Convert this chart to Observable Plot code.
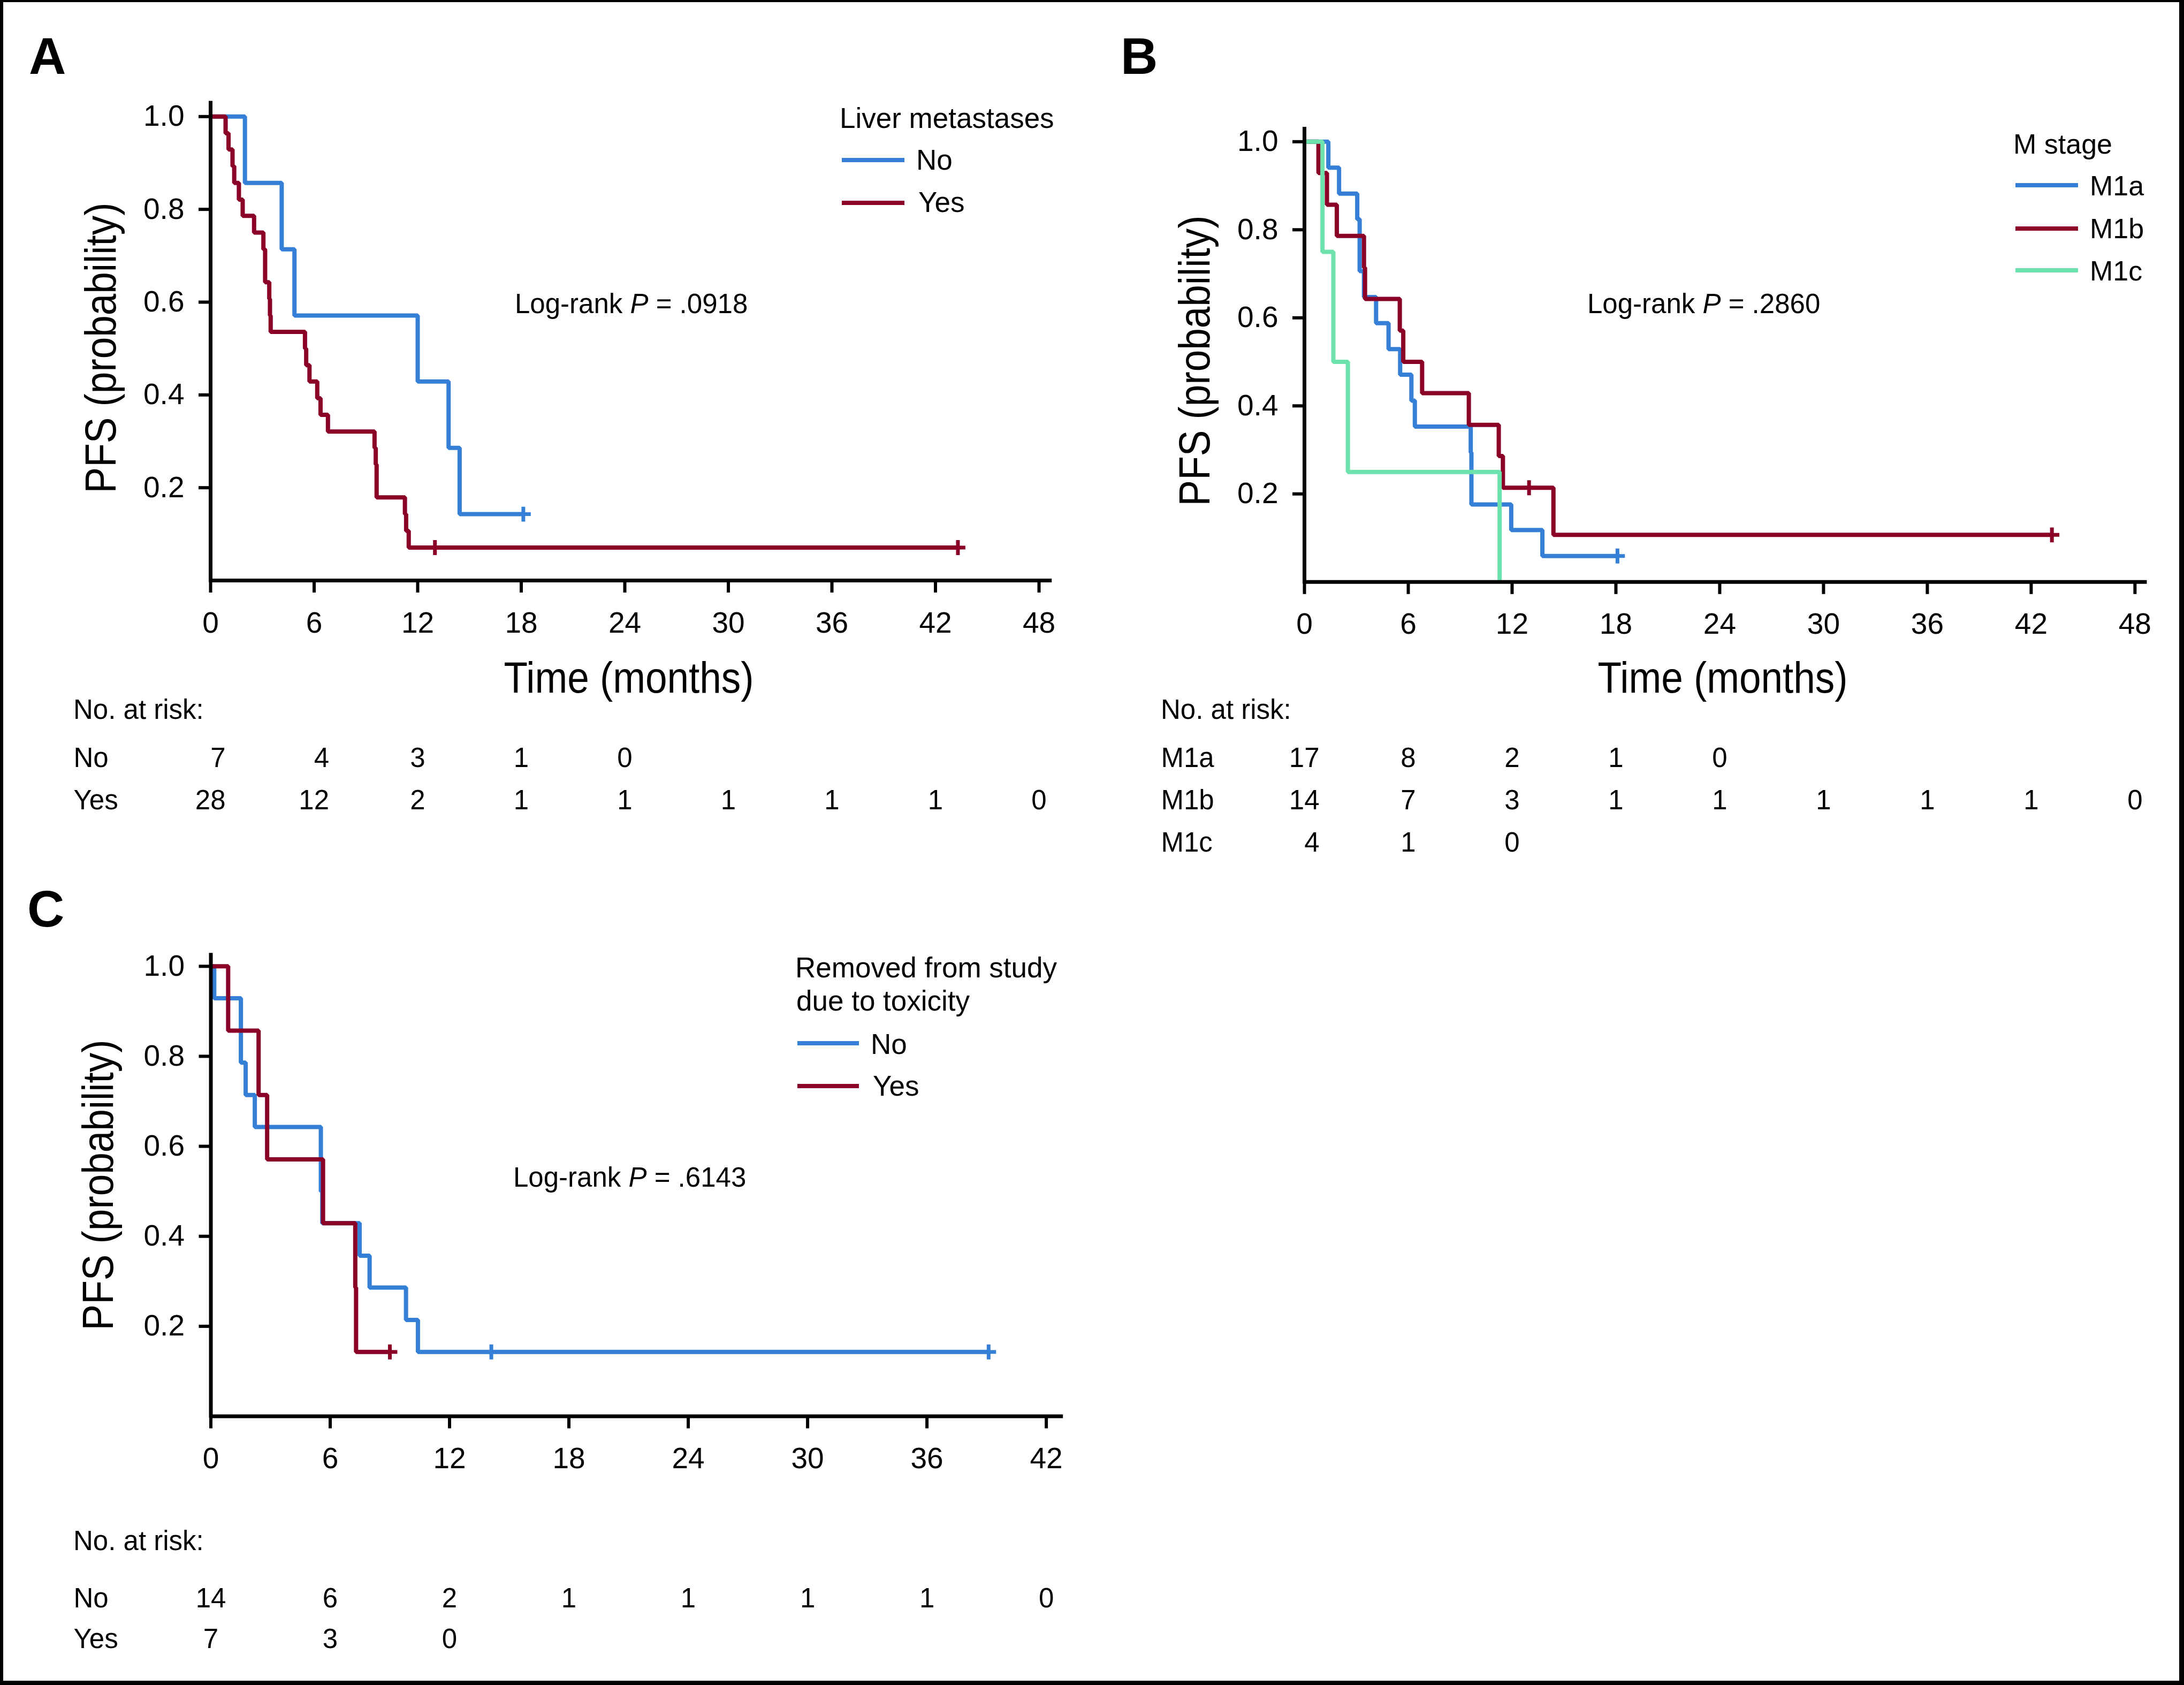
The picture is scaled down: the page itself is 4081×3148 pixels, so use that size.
<!DOCTYPE html>
<html><head><meta charset="utf-8">
<script src="https://cdn.jsdelivr.net/npm/d3@7"></script>
<script src="https://cdn.jsdelivr.net/npm/@observablehq/plot@0.6"></script>
<style>
html,body{margin:0;padding:0;background:#fff;}
#page{position:relative;width:4081px;height:3148px;overflow:hidden;background:#fff;font-family:"Liberation Sans",Arial,Helvetica,sans-serif;color:#000;}
.abs{position:absolute;white-space:nowrap;line-height:1;}
#frame{position:absolute;left:0;top:0;width:4081px;height:3148px;box-sizing:border-box;border-style:solid;border-color:#000;border-width:4px 9px 8px 6px;pointer-events:none;}
</style></head><body><div id="page"></div>
<script>
// ---------------- DATA ----------------
// Panel A: Liver metastases
const aGroups = ["No", "Yes"];
const aNoTime = [0, 1.99, 4.12, 4.86, 12.0, 13.79, 14.43, 18.12];
const aNoSurv = [1, 0.857, 0.714, 0.571, 0.429, 0.286, 0.143, 0.143];
const aYesTime = [0, 0.87, 1.04, 1.27, 1.37, 1.64, 1.86, 2.52, 3.06, 3.16, 3.40, 3.44, 3.48, 5.47, 5.54, 5.73, 6.18, 6.37, 6.80, 9.50, 9.57, 9.62, 11.26, 11.33, 11.48, 43.3];
const aYesSurv = [1, 0.964, 0.929, 0.893, 0.857, 0.821, 0.786, 0.750, 0.714, 0.643, 0.607, 0.571, 0.536, 0.500, 0.464, 0.429, 0.393, 0.357, 0.321, 0.286, 0.250, 0.179, 0.143, 0.107, 0.071, 0.071];
const aNoCensorTime = [18.12];
const aNoCensorSurv = [0.143];
const aYesCensorTime = [13.0, 43.3];
const aYesCensorSurv = [0.071, 0.071];
const aRiskTimes = [0, 6, 12, 18, 24, 30, 36, 42, 48];
const aRiskNo = [7, 4, 3, 1, 0];
const aRiskYes = [28, 12, 2, 1, 1, 1, 1, 1, 0];
const aTicks = [0, 6, 12, 18, 24, 30, 36, 42, 48];
const aPValue = ".0918";

// Panel B: M stage
const bGroups = ["M1a", "M1b", "M1c"];
const bM1aTime = [0, 1.38, 2.0, 3.05, 3.19, 3.44, 4.14, 4.86, 5.53, 6.18, 6.38, 9.61, 9.65, 11.95, 13.75, 18.09];
const bM1aSurv = [1, 0.941, 0.882, 0.824, 0.706, 0.647, 0.588, 0.529, 0.471, 0.412, 0.353, 0.294, 0.176, 0.118, 0.059, 0.059];
const bM1bTime = [0, 0.81, 1.30, 1.87, 3.44, 3.50, 5.51, 5.71, 6.80, 9.50, 11.23, 11.47, 14.39, 43.2];
const bM1bSurv = [1, 0.929, 0.857, 0.786, 0.714, 0.643, 0.571, 0.500, 0.429, 0.357, 0.286, 0.214, 0.107, 0.107];
const bM1cTime = [0, 1.04, 1.67, 2.51, 11.28];
const bM1cSurv = [1, 0.75, 0.5, 0.25, 0];
const bM1aCensorTime = [18.09];
const bM1aCensorSurv = [0.059];
const bM1bCensorTime = [12.98, 43.2];
const bM1bCensorSurv = [0.214, 0.107];
const bRiskTimes = [0, 6, 12, 18, 24, 30, 36, 42, 48];
const bRiskM1a = [17, 8, 2, 1, 0];
const bRiskM1b = [14, 7, 3, 1, 1, 1, 1, 1, 0];
const bRiskM1c = [4, 1, 0];
const bTicks = [0, 6, 12, 18, 24, 30, 36, 42, 48];
const bPValue = ".2860";

// Panel C: Removed from study due to toxicity
const cGroups = ["No", "Yes"];
const cNoTime = [0, 0.17, 1.51, 1.75, 2.21, 5.53, 5.60, 7.48, 7.98, 9.81, 10.41, 39.1];
const cNoSurv = [1, 0.929, 0.786, 0.714, 0.643, 0.500, 0.429, 0.357, 0.286, 0.214, 0.143, 0.143];
const cYesTime = [0, 0.87, 2.40, 2.83, 5.64, 7.26, 7.30, 9.0];
const cYesSurv = [1, 0.857, 0.714, 0.571, 0.429, 0.286, 0.143, 0.143];
const cNoCensorTime = [14.1, 39.1];
const cNoCensorSurv = [0.143, 0.143];
const cYesCensorTime = [9.0];
const cYesCensorSurv = [0.143];
const cRiskTimes = [0, 6, 12, 18, 24, 30, 36, 42];
const cRiskNo = [14, 6, 2, 1, 1, 1, 1, 0];
const cRiskYes = [7, 3, 0];
const cTicks = [0, 6, 12, 18, 24, 30, 36, 42];
const cPValue = ".6143";

const yTicks = [0.2, 0.4, 0.6, 0.8, 1.0];
const BLUE = "#3580D6", RED = "#8B0026", GREEN = "#6EE2AC";

// ---------------- HELPERS ----------------
const FONT = '"Liberation Sans", Arial, Helvetica, sans-serif';
const page = document.getElementById("page");

function mount(el, left, top) {
  el.style.position = "absolute";
  el.style.left = left + "px";
  el.style.top = top + "px";
  page.appendChild(el);
}

function toRows(g, times, survs) {
  return times.map((t, i) => ({g, t, s: survs[i]}));
}

function kmPlot(o) {
  const data = o.series.flatMap(s => toRows(s.g, s.time, s.surv));
  const cens = o.censors.flatMap(s => toRows(s.g, s.time, s.surv));
  return Plot.plot({
    width: o.width, height: o.height,
    marginLeft: o.mL, marginRight: o.mR, marginTop: o.mT, marginBottom: o.mB,
    style: {fontFamily: FONT, color: "#000", background: "transparent", overflow: "visible"},
    x: {domain: [0, o.xMax]},
    y: {domain: [0, o.yMax]},
    color: {domain: o.groups, range: o.colors},
    marks: [
      Plot.line(data, {x: "t", y: "s", z: "g", stroke: "g", curve: "step-after", strokeWidth: 8, strokeLinejoin: "miter", strokeLinecap: "butt"}),
      Plot.dot(cens, {x: "t", y: "s", stroke: "g", symbol: "plus", r: 9, strokeWidth: 7}),
      Plot.axisX({ticks: o.xTicks, tickSize: 23, tickPadding: 35, strokeWidth: 6, fontSize: 55, label: null, tickFormat: d => String(d)}),
      Plot.axisY({ticks: yTicks, tickSize: 22, tickPadding: 27, strokeWidth: 6, fontSize: 55, label: null, tickFormat: d => d.toFixed(1)}),
      Plot.ruleX([0], {strokeWidth: 7, strokeLinecap: "square"}),
      Plot.ruleY([0], {strokeWidth: 7})
    ]
  });
}

function riskPlot(o) {
  const data = o.rows.flatMap(r => r.values.map((n, i) => ({g: r.g, t: o.times[i], n})));
  const wideTimes = new Set(data.filter(d => String(d.n).length > 1).map(d => d.t));
  const isWide = d => o.align && wideTimes.has(d.t);
  const mT = 40, mB = 40;
  return Plot.plot({
    width: o.width, height: mT + mB + o.gap * (o.rows.length - 1),
    marginLeft: o.mL, marginRight: o.mR, marginTop: mT, marginBottom: mB,
    style: {fontFamily: FONT, color: "#000", background: "transparent", overflow: "visible"},
    x: {domain: [0, o.xMax], axis: null},
    y: {type: "point", domain: o.rows.map(r => r.g), padding: 0, axis: null},
    marks: [
      Plot.text(data.filter(isWide), {x: "t", y: "g", text: "n", textAnchor: "end", dx: 28, fontSize: 51, fill: "#000"}),
      Plot.text(data.filter(d => !isWide(d)), {x: "t", y: "g", text: "n", textAnchor: "middle", fontSize: 51, fill: "#000"}),
      Plot.text(o.rows, {y: "g", text: "g", frameAnchor: "left", textAnchor: "start", dx: o.labelDx, fontSize: 51, fill: "#000"})
    ]
  });
}

function txt(html, x, baseline, size, opt = {}) {
  const d = document.createElement("div");
  d.className = "abs";
  d.innerHTML = html;
  d.style.fontSize = size + "px";
  d.style.transformOrigin = "0 0";
  if (opt.bold) d.style.fontWeight = "bold";
  const sx = opt.scaleX || 1;
  if (opt.rotate) {
    d.style.left = (x - 0.8465 * size) + "px";
    d.style.top = baseline + "px";
    d.style.transform = `rotate(-90deg) scaleX(${sx}) translateX(-50%)`;
  } else {
    d.style.left = x + "px";
    d.style.top = (baseline - 0.8465 * size) + "px";
    if (opt.anchor === "middle") d.style.transform = `scaleX(${sx}) translateX(-50%)`;
    else if (sx !== 1) d.style.transform = `scaleX(${sx})`;
  }
  page.appendChild(d);
}

function swatch(x1, x2, y, color) {
  const d = document.createElement("div");
  d.style.position = "absolute";
  d.style.left = x1 + "px";
  d.style.top = (y - 4) + "px";
  d.style.width = (x2 - x1) + "px";
  d.style.height = "8px";
  d.style.background = color;
  page.appendChild(d);
}

// ---------------- PANEL A ----------------
mount(kmPlot({
  width: 2040, height: 1230, mL: 393, mR: 74.8, mT: 192, mB: 146,
  xMax: 48.75, yMax: 1.0292, xTicks: aTicks, groups: aGroups, colors: [BLUE, RED],
  series: [{g: "No", time: aNoTime, surv: aNoSurv}, {g: "Yes", time: aYesTime, surv: aYesSurv}],
  censors: [{g: "No", time: aNoCensorTime, surv: aNoCensorSurv}, {g: "Yes", time: aYesCensorTime, surv: aYesCensorSurv}]
}), 0, 0);
mount(riskPlot({
  width: 2040, mL: 393, mR: 74.8, xMax: 48.75, times: aRiskTimes, gap: 79.5, align: true, labelDx: -256,
  rows: [{g: "No", values: aRiskNo}, {g: "Yes", values: aRiskYes}]
}), 0, 1375.5);

// ---------------- PANEL B ----------------
mount(kmPlot({
  width: 2020, height: 1233, mL: 387, mR: 58.5, mT: 240.4, mB: 146.2,
  xMax: 48.7, yMax: 1.029, xTicks: bTicks, groups: bGroups, colors: [BLUE, RED, GREEN],
  series: [{g: "M1a", time: bM1aTime, surv: bM1aSurv}, {g: "M1b", time: bM1bTime, surv: bM1bSurv}, {g: "M1c", time: bM1cTime, surv: bM1cSurv}],
  censors: [{g: "M1a", time: bM1aCensorTime, surv: bM1aCensorSurv}, {g: "M1b", time: bM1bCensorTime, surv: bM1bCensorSurv}]
}), 2050, 0);
mount(riskPlot({
  width: 2020, mL: 387, mR: 58.5, xMax: 48.7, times: bRiskTimes, gap: 79, align: true, labelDx: -268,
  rows: [{g: "M1a", values: bRiskM1a}, {g: "M1b", values: bRiskM1b}, {g: "M1c", values: bRiskM1c}]
}), 2050, 1376);

// ---------------- PANEL C ----------------
mount(kmPlot({
  width: 2060, height: 1090, mL: 393.5, mR: 73.8, mT: 83.8, mB: 144.5,
  xMax: 42.85, yMax: 1.025, xTicks: cTicks, groups: cGroups, colors: [BLUE, RED],
  series: [{g: "No", time: cNoTime, surv: cNoSurv}, {g: "Yes", time: cYesTime, surv: cYesSurv}],
  censors: [{g: "No", time: cNoCensorTime, surv: cNoCensorSurv}, {g: "Yes", time: cYesCensorTime, surv: cYesCensorSurv}]
}), 0, 1700);
mount(riskPlot({
  width: 2060, mL: 393.5, mR: 73.8, xMax: 42.85, times: cRiskTimes, gap: 76, align: false, labelDx: -256.5,
  rows: [{g: "No", values: cRiskNo}, {g: "Yes", values: cRiskYes}]
}), 0, 2946);

// ---------------- TEXT ----------------
// panel letters
txt("A", 54, 138, 96, {bold: true});
txt("B", 2094, 138, 96, {bold: true});
txt("C", 51, 1731, 96, {bold: true});

// axis titles
txt("PFS (probability)", 217, 650, 81, {rotate: true, scaleX: 0.9});
txt("PFS (probability)", 2261, 674, 81, {rotate: true, scaleX: 0.9});
txt("PFS (probability)", 212, 2214, 81, {rotate: true, scaleX: 0.9});
txt("Time (months)", 1175, 1295, 81, {anchor: "middle", scaleX: 0.9});
txt("Time (months)", 3219, 1295, 81, {anchor: "middle", scaleX: 0.9});

// legends
txt("Liver metastases", 1569, 239, 53);
swatch(1573, 1690, 299, BLUE); txt(aGroups[0], 1712, 317, 53);
swatch(1573, 1690, 379, RED); txt(aGroups[1], 1716, 396, 53);

txt("M stage", 3762, 287.5, 52);
swatch(3766, 3883, 346, BLUE); txt(bGroups[0], 3905, 365, 52);
swatch(3766, 3883, 427, RED); txt(bGroups[1], 3905, 445, 52);
swatch(3766, 3883, 505, GREEN); txt(bGroups[2], 3905, 524, 52);

txt("Removed from study", 1486, 1826, 53);
txt("due to toxicity", 1488, 1888, 53);
swatch(1490, 1605, 1949, BLUE); txt(cGroups[0], 1627, 1969, 53);
swatch(1490, 1605, 2029, RED); txt(cGroups[1], 1631, 2047, 53);

// log-rank
txt("Log-rank <i>P</i> = " + aPValue, 962, 585, 51);
txt("Log-rank <i>P</i> = " + bPValue, 2966, 585, 51);
txt("Log-rank <i>P</i> = " + cPValue, 959, 2217, 51);

// risk table headers
txt("No. at risk:", 137, 1343, 51);
txt("No. at risk:", 2169, 1343, 51);
txt("No. at risk:", 137, 2896, 51);

const fr = document.createElement("div"); fr.id = "frame"; page.appendChild(fr);
</script></body></html>
